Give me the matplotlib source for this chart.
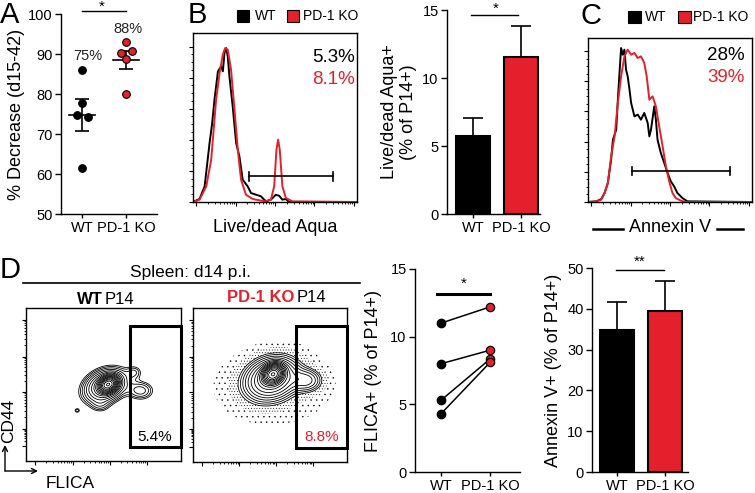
import matplotlib
matplotlib.use("Agg")
import matplotlib.pyplot as plt
import numpy as np
from matplotlib.lines import Line2D
from matplotlib.patches import FancyArrowPatch, Rectangle

plt.rcParams["font.family"] = ["Liberation Sans", "DejaVu Sans"]
plt.rcParams["axes.linewidth"] = 1.0
plt.rcParams["hatch.color"] = "black"
plt.rcParams["hatch.linewidth"] = 0.3

W, H = 755, 493
RED = "#e3202b"
groups = ["WT", "PD-1 KO"]

# A: % decrease d15-42, individual mice
decrease_wt = [85.9, 77.7, 74.8, 74.3, 61.4]
decrease_ko = [93.1, 90.2, 90.8, 88.7, 80.0]
decrease_labels = ["75%", "88%"]

# B: Live/dead Aqua histograms (x: channel, y: % of max)
aqua_wt_x = [0, 4.0, 7.1, 10.1, 11.7, 13.1, 15.2, 17.2, 18.2, 19.2, 20.2, 21.2, 22.2, 24.2,
             26.3, 28.3, 30.3, 33.3, 35.4, 38.4, 41.4, 44.4, 47.5, 50.5, 52.5, 54.5, 56.6,
             58.6, 100]
aqua_wt_y = [0, 1.8, 9.3, 34.9, 46.7, 60.6, 77.3, 80.3, 77.3, 88.2, 91.1, 86.2, 74.4, 56.6,
             34.9, 27.0, 13.2, 9.3, 5.3, 4.3, 3.4, 0.4, 1.4, 4.3, 3.7, 1.4, 1.8, 0, 0]
aqua_ko_x = [0, 4.0, 8.1, 11.1, 14.1, 16.2, 18.2, 19.6, 21.2, 23.2, 25.3, 27.3, 29.3, 32.3,
             36.4, 40.4, 44.4, 47.5, 49.5, 50.9, 51.9, 52.9, 54.5, 56.6, 60.6, 100]
aqua_ko_y = [0, 1.4, 9.3, 25.0, 60.6, 76.3, 87.2, 91.1, 90.1, 78.3, 54.6, 31.0, 13.2, 4.3,
             1.8, 1.0, 0.4, 1.4, 9.3, 31.0, 36.9, 31.0, 9.3, 2.4, 0.4, 0]
aqua_gate = [34.3, 85.5, 15.2]
aqua_pct = ["5.3%", "8.1%"]

# B: Live/dead Aqua+ bars
aqua_mean = [5.74, 11.57]
aqua_sem = [1.29, 2.25]

# C: Annexin V histograms
annex_wt_x = [0, 5.1, 8.1, 10.1, 12.1, 14.1, 15.2, 17.2, 18.2, 19.2, 20.2, 21.2, 22.2, 23.2,
              24.2, 25.3, 26.3, 28.3, 30.3, 32.3, 34.3, 36.4, 37.4, 38.4, 40.4, 41.4, 42.4,
              44.4, 46.5, 48.5, 50.5, 52.5, 54.5, 57.6, 60.6, 100]
annex_wt_y = [0, 0.4, 1.8, 5.5, 11.6, 25.8, 38.0, 44.1, 62.4, 78.7, 93.9, 89.8, 92.9, 80.7,
              76.6, 68.5, 60.4, 52.2, 53.3, 50.2, 54.3, 48.2, 40.0, 44.1, 58.3, 50.2, 38.0,
              29.9, 23.8, 17.7, 12.6, 9.6, 5.5, 2.4, 0.4, 0]
annex_ko_x = [0, 5.1, 8.1, 10.1, 12.1, 14.1, 16.2, 18.2, 20.2, 22.2, 24.2, 26.3, 28.3, 30.3,
              32.3, 34.3, 35.8, 37.4, 39.4, 41.4, 43.4, 45.5, 47.5, 49.5, 51.5, 53.5, 56.6,
              59.6, 100]
annex_ko_y = [0, 0.4, 1.4, 5.5, 11.6, 27.8, 40.0, 60.4, 76.6, 88.8, 92.9, 89.8, 90.9, 87.8,
              88.8, 84.8, 76.6, 62.4, 64.4, 58.3, 46.1, 33.9, 21.7, 12.6, 5.5, 2.4, 0.8, 0, 0]
annex_gate = [26.9, 86.3, 18.7]
annex_pct = ["28%", "39%"]

# D: CD44 vs FLICA populations (cx, cy, sx, sy, angle, weight)
flica_wt_pop = [(53, 50, 3.2, 2.4, 30, 1.0), (51, 49, 8.5, 6, 25, 0.12),
                (70, 58, 3.5, 3, 0, 0.02), (74, 46, 5.5, 4, 0, 0.035),
                (48, 36, 4, 3, 0, 0.015), (33, 33, 1.3, 1.1, 0, 0.02)]
flica_ko_pop = [(52, 57, 3.5, 2.8, 30, 1.0), (51, 54, 10, 7.5, 20, 0.12),
                (74, 53, 6, 4.5, 0, 0.04), (52, 49, 22, 14, 0, 0.006)]
flica_pct = ["5.4%", "8.8%"]

# D: FLICA+ paired values
flica_wt = [11.0, 8.0, 5.3, 4.3]
flica_ko = [12.2, 9.0, 8.35, 8.1]

# D: Annexin V+ bars
annex_mean = [34.7, 39.4]
annex_sem = [6.9, 7.3]

fig = plt.figure(figsize=(W / 100, H / 100), dpi=100)


def box(l, t, r, b):
    return fig.add_axes([l / W, 1 - b / H, (r - l) / W, (b - t) / H])


def ftext(x, y, s, **kw):
    return fig.text(x / W, 1 - y / H, s, **kw)


def fline(xs, ys, **kw):
    fig.add_artist(Line2D([x / W for x in xs], [1 - y / H for y in ys], **kw))


def stat_axes(ax):
    for s in ["top", "right"]:
        ax.spines[s].set_visible(False)
    ax.tick_params(direction="out", length=4, width=1, labelsize=10.5, pad=2)
    ax.set_xticks([0, 1])
    ax.set_xticklabels(groups)
    ax.tick_params(axis="x", length=3)


def log_ticks(ax, axis, majors):
    minors = []
    for i in range(len(majors) - 1):
        d = majors[i + 1] - majors[i]
        minors += [majors[i] + d * np.log10(m) for m in range(2, 10)]
    if axis == "x":
        ax.set_xticks(majors)
        ax.set_xticks(minors, minor=True)
    else:
        ax.set_yticks(majors)
        ax.set_yticks(minors, minor=True)


def hist_axes(ax):
    ax.set_xlim(0, 100)
    ax.set_ylim(0, 100)
    log_ticks(ax, "x", [2, 26, 50, 74, 98])
    ax.set_yticks(np.linspace(0, 92, 6))
    ax.set_yticks(np.linspace(0, 92, 21), minor=True)
    ax.tick_params(which="major", direction="out", length=3, width=0.8,
                   labelbottom=False, labelleft=False)
    ax.tick_params(which="minor", direction="out", length=1.5, width=0.6)


# ---------------- A ----------------
ax = box(61, 14, 157, 214)
stat_axes(ax)
label_pos = [(0.14, 89.4), (1.05, 96.3)]
for i, (vals, fc) in enumerate([(decrease_wt, "black"), (decrease_ko, RED)]):
    jit = [0, 0, -0.11, 0.13, 0] if i == 0 else [0, -0.12, 0.13, 0, 0]
    ax.plot([i + j for j in jit], vals, "o", ms=5.5, mfc=fc, mec="black", mew=0.8,
            clip_on=False, zorder=3)
    m = np.mean(vals)
    sem = np.std(vals, ddof=1) / np.sqrt(len(vals))
    ax.plot([i - 0.3, i + 0.3], [m, m], color="black", lw=1.2)
    ax.errorbar(i, m, yerr=sem, color="black", lw=1.2, capsize=5, capthick=1.2)
    ax.text(*label_pos[i], decrease_labels[i], ha="center", va="center", fontsize=10.5,
            color="#222222")
ax.set_xlim(-0.48, 1.7)
ax.set_ylim(50, 100)
ax.set_yticks(range(50, 101, 10))
ax.set_ylabel("% Decrease (d15-42)", fontsize=13, labelpad=2)
ax.plot([0, 1], [100.8, 100.8], color="black", lw=1, clip_on=False)
ftext(102, 6.5, "*", ha="center", va="center", fontsize=11)
ftext(0, 1, "A", fontsize=21, va="top")

# ---------------- B histogram ----------------
ax = box(193, 33, 357, 202)
ax.plot(aqua_wt_x, aqua_wt_y, color="black", lw=1.4)
ax.plot(aqua_ko_x, aqua_ko_y, color=RED, lw=1.4)
ax.plot(aqua_gate[:2], [aqua_gate[2]] * 2, color="black", lw=1.2)
for gx in aqua_gate[:2]:
    ax.plot([gx, gx], [aqua_gate[2] - 2.5, aqua_gate[2] + 2.5], color="black", lw=1.2)
hist_axes(ax)
ax.set_xlabel("Live/dead Aqua", fontsize=13, labelpad=7)
ftext(355, 57, aqua_pct[0], fontsize=13.5, ha="right", va="center")
ftext(355, 80, aqua_pct[1], fontsize=13.5, ha="right", va="center", color=RED)
ftext(188, 1, "B", fontsize=21, va="top")
fig.add_artist(Rectangle((237 / W, 1 - 22 / H), 12 / W, 12 / H, fc="black", ec="black",
                         lw=0.8, transform=fig.transFigure))
ftext(255, 16, "WT", fontsize=10, va="center")
fig.add_artist(Rectangle((287 / W, 1 - 22 / H), 12 / W, 12 / H, fc=RED, ec="black",
                         lw=0.8, transform=fig.transFigure))
ftext(303, 16, "PD-1 KO", fontsize=10, va="center")

# ---------------- B bars ----------------
ax = box(447, 10, 540, 214)
stat_axes(ax)
ax.bar([0, 1], aqua_mean, width=0.7, color=["black", RED], edgecolor="black", lw=1.5,
       zorder=2)
ax.errorbar([0, 1], aqua_mean, yerr=[[0, 0], aqua_sem], fmt="none", ecolor="black",
            lw=1.2, capsize=7, capthick=1.2, zorder=1)
ax.set_xlim(-0.54, 1.4)
ax.set_ylim(0, 15)
ax.set_yticks([0, 5, 10, 15])
ax.set_ylabel("Live/dead Aqua+\n(% of P14+)", fontsize=13, labelpad=4, linespacing=1.1)
ax.plot([-0.04, 0.94], [14.63, 14.63], color="black", lw=1, clip_on=False)
ftext(496, 8.5, "*", ha="center", va="center", fontsize=11)

# ---------------- C histogram ----------------
ax = box(588, 38, 752, 202)
ax.plot(annex_wt_x, annex_wt_y, color="black", lw=1.4)
ax.plot(annex_ko_x, annex_ko_y, color=RED, lw=1.4)
ax.plot(annex_gate[:2], [annex_gate[2]] * 2, color="black", lw=1.2)
for gx in annex_gate[:2]:
    ax.plot([gx, gx], [annex_gate[2] - 2.5, annex_gate[2] + 2.5], color="black", lw=1.2)
hist_axes(ax)
ftext(745, 55, annex_pct[0], fontsize=13.5, ha="right", va="center")
ftext(745, 78, annex_pct[1], fontsize=13.5, ha="right", va="center", color=RED)
ftext(670, 228, "Annexin V", fontsize=13, ha="center", va="center")
fline([593, 623], [229, 229], color="black", lw=1.8)
fline([717, 743], [229, 229], color="black", lw=1.8)
ftext(581, 2, "C", fontsize=21, va="top")
fig.add_artist(Rectangle((628 / W, 1 - 23 / H), 13 / W, 12 / H, fc="black", ec="black",
                         lw=0.8, transform=fig.transFigure))
ftext(645, 17, "WT", fontsize=10, va="center")
fig.add_artist(Rectangle((678 / W, 1 - 23 / H), 13 / W, 12 / H, fc=RED, ec="black",
                         lw=0.8, transform=fig.transFigure))
ftext(693, 17, "PD-1 KO", fontsize=10, va="center")

# ---------------- D contour plots ----------------
gx, gy = np.meshgrid(np.linspace(0, 100, 400), np.linspace(0, 100, 400))


def density(pops):
    z = np.zeros_like(gx)
    for cx, cy, sx, sy, ang, w in pops:
        t = np.deg2rad(ang)
        u = (gx - cx) * np.cos(t) + (gy - cy) * np.sin(t)
        v = -(gx - cx) * np.sin(t) + (gy - cy) * np.cos(t)
        z += w * np.exp(-0.5 * ((u / sx) ** 2 + (v / sy) ** 2))
    return z


def flow_panel(ax, pops, pct, color, dots):
    z = density(pops)
    lv = z.max() * np.geomspace(0.012, 0.95, 17)
    if dots:
        ax.contourf(gx, gy, z, levels=[z.max() * 0.0012, z.max() * 0.004, lv[0]],
                    colors="none", hatches=["...", "......"])
    ax.contour(gx, gy, z, levels=lv, colors="black", linewidths=0.6)
    ax.add_patch(Rectangle((66.8, 9.4), 33.2, 78.9, fill=False, ec="black", lw=2.2,
                           clip_on=False, zorder=5))
    ax.text(72, 16, pct, color=color, fontsize=11, va="center")
    ax.set_xlim(0, 100)
    ax.set_ylim(0, 100)
    log_ticks(ax, "x", [6, 30, 54, 78])
    log_ticks(ax, "y", [9.6, 21.2, 45.3, 68.3, 92.3])
    ax.tick_params(which="major", direction="out", length=3, width=0.8,
                   labelbottom=False, labelleft=False)
    ax.tick_params(which="minor", direction="out", length=1.5, width=0.6)


ax = box(26, 308, 181, 461)
flow_panel(ax, flica_wt_pop, flica_pct[0], "black", False)
ax = box(193, 308, 347, 462)
flow_panel(ax, flica_ko_pop, flica_pct[1], RED, True)

ftext(0, 256, "D", fontsize=21, va="top")
ftext(191, 272, "Spleen: d14 p.i.", fontsize=12.5, ha="center", va="center")
fline([23, 360], [283, 283], color="black", lw=1.2)
ftext(103, 299, "WT", fontsize=12, ha="right", va="center", fontweight="bold")
ftext(105, 299, "P14", fontsize=12, ha="left", va="center")
ftext(294, 298, "PD-1 KO", fontsize=12, ha="right", va="center", fontweight="bold",
      color=RED)
ftext(297, 298, "P14", fontsize=12, ha="left", va="center")
ftext(9, 421, "CD44", fontsize=12.5, rotation=90, ha="center", va="center")
ftext(46, 483, "FLICA", fontsize=12.5, ha="left", va="center")
corner = (5 / W, 1 - 471 / H)
fig.add_artist(FancyArrowPatch(corner, (5 / W, 1 - 445 / H), arrowstyle="->",
                               mutation_scale=9, lw=1, transform=fig.transFigure,
                               shrinkA=0, shrinkB=0))
fig.add_artist(FancyArrowPatch(corner, (38 / W, 1 - 471 / H), arrowstyle="->",
                               mutation_scale=9, lw=1, transform=fig.transFigure,
                               shrinkA=0, shrinkB=0))

# ---------------- D FLICA paired ----------------
ax = box(415, 269, 520, 472)
stat_axes(ax)
for a, b in zip(flica_wt, flica_ko):
    ax.plot([0, 1], [a, b], color="black", lw=1.1, zorder=2)
ax.plot([0] * len(flica_wt), flica_wt, "o", ms=6, mfc="black", mec="black", zorder=3)
ax.plot([1] * len(flica_ko), flica_ko, "o", ms=6, mfc=RED, mec="black", mew=0.9, zorder=3)
ax.set_xlim(-0.53, 1.61)
ax.set_ylim(0, 15)
ax.set_yticks([0, 5, 10, 15])
ax.set_ylabel("FLICA+ (% of P14+)", fontsize=13, labelpad=6)
ax.plot([-0.08, 1.0], [13.15, 13.15], color="black", lw=2.2)
ax.text(0.47, 13.4, "*", ha="center", va="bottom", fontsize=11)

# ---------------- D Annexin V bars ----------------
ax = box(592, 268, 688, 472)
stat_axes(ax)
ax.bar([0, 1], annex_mean, width=0.7, color=["black", RED], edgecolor="black", lw=1.5,
       zorder=2)
ax.errorbar([0, 1], annex_mean, yerr=[[0, 0], annex_sem], fmt="none", ecolor="black",
            lw=1.2, capsize=7, capthick=1.2, zorder=1)
ax.set_xlim(-0.52, 1.48)
ax.set_ylim(0, 50)
ax.set_yticks(range(0, 51, 10))
ax.set_ylabel("Annexin V+ (% of P14+)", fontsize=13, labelpad=4)
ax.plot([-0.02, 0.98], [49.6, 49.6], color="black", lw=1, clip_on=False)
ftext(640, 262, "**", ha="center", va="center", fontsize=11)

fig.savefig("out.png", dpi=100)
